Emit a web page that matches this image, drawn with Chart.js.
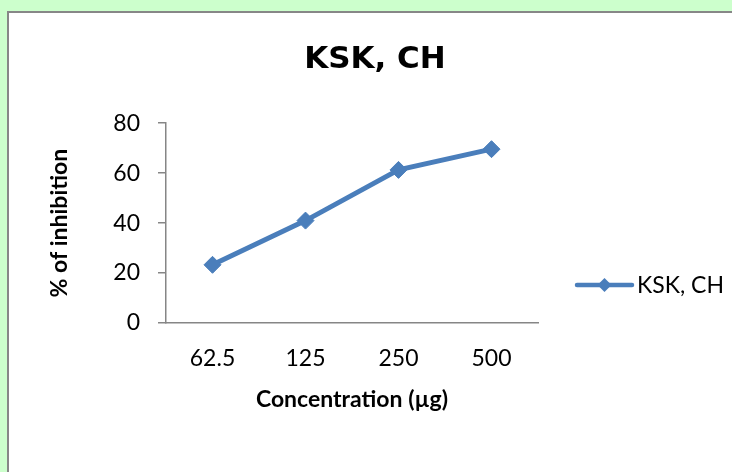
<!DOCTYPE html>
<html>
<head>
<meta charset="utf-8">
<script src="https://cdn.jsdelivr.net/npm/chart.js@4.4.1/dist/chart.umd.min.js"></script>
<style>
  html, body { margin: 0; padding: 0; background: #ccffcc; overflow: hidden; }
  #panel {
    position: absolute; left: 7px; top: 11px;
    width: 760px; height: 500px;
    background: #fff;
    border-left: 2px solid #878787; border-top: 2px solid #878787;
  }
  #wrap { position: absolute; left: 0; top: 0; width: 723px; height: 459px; }
</style>
</head>
<body>
<div id="panel"><div id="wrap"><canvas id="chart"></canvas></div></div>
<script>
// --- data ---
const concentrations = ["62.5", "125", "250", "500"];
const inhibition = [23.3, 41, 61.3, 69.6];
const seriesName = "KSK, CH";
const yTicks = [0, 20, 40, 60, 80];

const FONT = "Lato, 'Open Sans', sans-serif";
const BLUE = "#4a7ebb";
const AXIS = "#868686";

// legend drawn like the Excel one: line + diamond + label, right side
const sideLegend = {
  id: "sideLegend",
  afterDraw(chart) {
    const ctx = chart.ctx;
    const ds = chart.data.datasets[0];
    const x0 = 568, x1 = 623, y = 272;
    ctx.save();
    ctx.strokeStyle = ds.borderColor;
    ctx.lineWidth = 4.5;
    ctx.lineCap = "round";
    ctx.beginPath();
    ctx.moveTo(x0, y);
    ctx.lineTo(x1, y);
    ctx.stroke();
    const mx = (x0 + x1) / 2, r = 7;
    ctx.fillStyle = ds.backgroundColor;
    ctx.beginPath();
    ctx.moveTo(mx - r, y);
    ctx.lineTo(mx, y - r);
    ctx.lineTo(mx + r, y);
    ctx.lineTo(mx, y + r);
    ctx.closePath();
    ctx.fill();
    ctx.fillStyle = "#000";
    ctx.font = "23px " + FONT;
    ctx.textBaseline = "middle";
    ctx.fillText(ds.label, 628, y + 1);
    ctx.restore();
  }
};

new Chart(document.getElementById("chart"), {
  type: "line",
  data: {
    labels: concentrations,
    datasets: [{
      label: seriesName,
      data: inhibition,
      borderColor: BLUE,
      backgroundColor: BLUE,
      borderWidth: 5,
      pointStyle: "rectRot",
      pointRadius: 8.5,
      pointHoverRadius: 8.5,
      pointBorderWidth: 1,
      tension: 0
    }]
  },
  options: {
    responsive: true,
    maintainAspectRatio: false,
    animation: false,
    layout: { padding: { left: 37, right: 28, top: 0, bottom: 54 } },
    plugins: {
      legend: { display: false },
      tooltip: { enabled: false },
      title: {
        display: true,
        text: seriesName,
        color: "#000",
        font: { family: "'DejaVu Sans', sans-serif", size: 31, weight: "bold" },
        padding: { top: 28, bottom: 45 }
      }
    },
    scales: {
      x: {
        offset: true,
        grid: { display: false, drawTicks: false },
        border: { display: true, color: AXIS, width: 1.5 },
        ticks: { color: "#000", font: { family: FONT, size: 23 }, padding: 22, maxRotation: 0 },
        title: {
          display: true,
          text: "Concentration (µg)",
          color: "#000",
          font: { family: FONT, size: 23, weight: "bold" },
          padding: { top: 0, bottom: 5 }
        },
        afterFit(scale) { scale.height = 95; }
      },
      y: {
        min: 0,
        max: 80,
        afterBuildTicks(scale) { scale.ticks = yTicks.map(v => ({ value: v })); },
        grid: { drawOnChartArea: false, drawTicks: true, tickLength: 8, color: AXIS, lineWidth: 1.5 },
        border: { display: true, color: AXIS, width: 1.5 },
        ticks: { color: "#000", font: { family: FONT, size: 23 }, padding: 18 },
        title: {
          display: true,
          text: "% of inhibition",
          color: "#000",
          font: { family: FONT, size: 23, weight: "bold" },
          padding: { top: 0, bottom: 0 }
        },
        afterFit(scale) { scale.width = 120; }
      },
      // empty right-hand axis that only reserves the room the legend sits in
      side: {
        position: "right",
        display: true,
        grid: { display: false },
        border: { display: false },
        ticks: { display: false },
        afterFit(scale) { scale.width = 166; }
      }
    }
  },
  plugins: [sideLegend]
});
</script>
</body>
</html>
